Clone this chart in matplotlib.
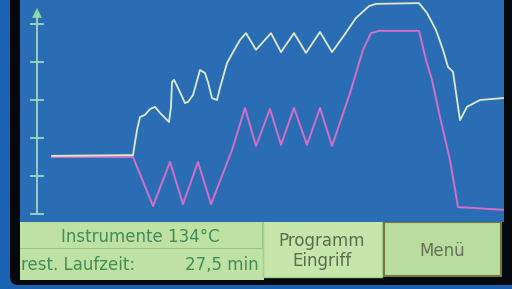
import matplotlib
matplotlib.use("Agg")
import matplotlib.pyplot as plt
from matplotlib.patches import Rectangle, FancyBboxPatch

# cycle readings (time units from the axis, value units = axis ticks)
t_white = [15, 96, 100, 103, 108, 113, 118, 123, 128, 132, 134, 135, 137, 141, 148, 151,
           156, 163, 168, 171, 175, 180, 183, 190, 196, 203, 209, 219, 234, 244, 257, 269,
           283, 295, 306, 319, 332, 339, 382, 390, 399, 406, 411, 416, 423, 430, 443, 466]
v_white = [1.53, 1.55, 2.21, 2.55, 2.61, 2.76, 2.82, 2.66, 2.53, 2.42, 2.82, 3.47, 3.53, 3.32,
           2.92, 2.95, 3.13, 3.79, 3.71, 3.47, 3.05, 3.0, 3.32, 3.97, 4.26, 4.58, 4.76, 4.32,
           4.76, 4.26, 4.76, 4.24, 4.79, 4.26, 4.66, 5.16, 5.47, 5.53, 5.55, 5.29, 4.84, 4.32,
           3.87, 3.74, 2.47, 2.82, 3.0, 3.05]

t_pink = [15, 96, 116, 133, 146, 161, 174, 195, 208, 219, 233, 244, 257, 270, 283, 295,
          313, 326, 334, 342, 382, 389, 395, 403, 413, 421, 436, 466]
v_pink = [1.5, 1.5, 0.21, 1.37, 0.26, 1.37, 0.26, 1.68, 2.79, 1.79, 2.76, 1.82, 2.79, 1.82,
          2.79, 1.79, 3.18, 4.32, 4.76, 4.82, 4.82, 4.05, 3.53, 2.55, 1.42, 0.18, 0.16, 0.11]

y_ticks = [0, 1, 2, 3, 4, 5]

title_txt = "Instrumente 134°C"
rest_lbl = "rest. Laufzeit:"
rest_val = "27,5 min"
btn1 = "Programm\nEingriff"
btn2 = "Menü"

outer_blue = "#1a63b3"
screen_blue = "#2b6db5"
panel_green = "#bfe2a4"
text_green = "#3f8d58"

fig = plt.figure(figsize=(5.12, 2.89), dpi=100)
fig.patch.set_facecolor(outer_blue)

# background in pixel coordinates
bg = fig.add_axes([0, 0, 1, 1])
bg.set_xlim(0, 512)
bg.set_ylim(289, 0)
bg.axis("off")
bg.add_patch(FancyBboxPatch((10, -20), 530, 305, boxstyle="round,pad=0,rounding_size=8",
                            fc="#05080c", ec="none"))
# bottom panel
bg.add_patch(Rectangle((20, 222), 244, 58, fc=panel_green, ec="none"))
bg.plot([20, 262], [248, 248], color="#9cc78a", lw=0.8)
bg.plot([262, 262], [222, 248], color="#9cc78a", lw=0.8)
bg.add_patch(Rectangle((263, 220), 119, 57, fc="#c6e6ab", ec="#a9cf90", lw=1))
bg.add_patch(Rectangle((384, 222), 117, 54, fc="#b9dd9c", ec="#6f7a3c", lw=1.5))
bg.text(140, 237, title_txt, color=text_green, fontsize=12, ha="center", va="center")
bg.text(21, 265, rest_lbl, color=text_green, fontsize=12, ha="left", va="center")
bg.text(259, 265, rest_val, color=text_green, fontsize=12, ha="right", va="center")
bg.text(322, 251, btn1, color="#5d6b4e", fontsize=12, ha="center", va="center", linespacing=1.2)
bg.text(442, 251, btn2, color="#66705c", fontsize=12, ha="center", va="center")

# screen plot area: x 20..504 px, y 0..222 px
ax = fig.add_axes([20 / 512, (289 - 222) / 289, 484 / 512, 222 / 289])
ax.set_facecolor(screen_blue)
ax.set_xlim(-17, 467)
ax.set_ylim((214 - 222) / 38, 214 / 38)
for s in ax.spines.values():
    s.set_visible(False)
ax.set_xticks([])
ax.set_yticks([])

axis_col = "#9fd8c0"
ax.plot([0, 0], [0, 5.2], color=axis_col, lw=1.3)
for yt in y_ticks:
    ax.plot([-6, 6], [yt, yt], color=axis_col, lw=1.3)
ax.fill([-5, 5, 0], [5.16, 5.16, 5.42], color="#8fd89a", lw=0)

ax.plot(t_pink, v_pink, color="#d26fc6", lw=1.4)
ax.plot(t_white, v_white, color="#dcebc6", lw=1.3)

fig.savefig("out.png", dpi=100, facecolor=fig.get_facecolor())
